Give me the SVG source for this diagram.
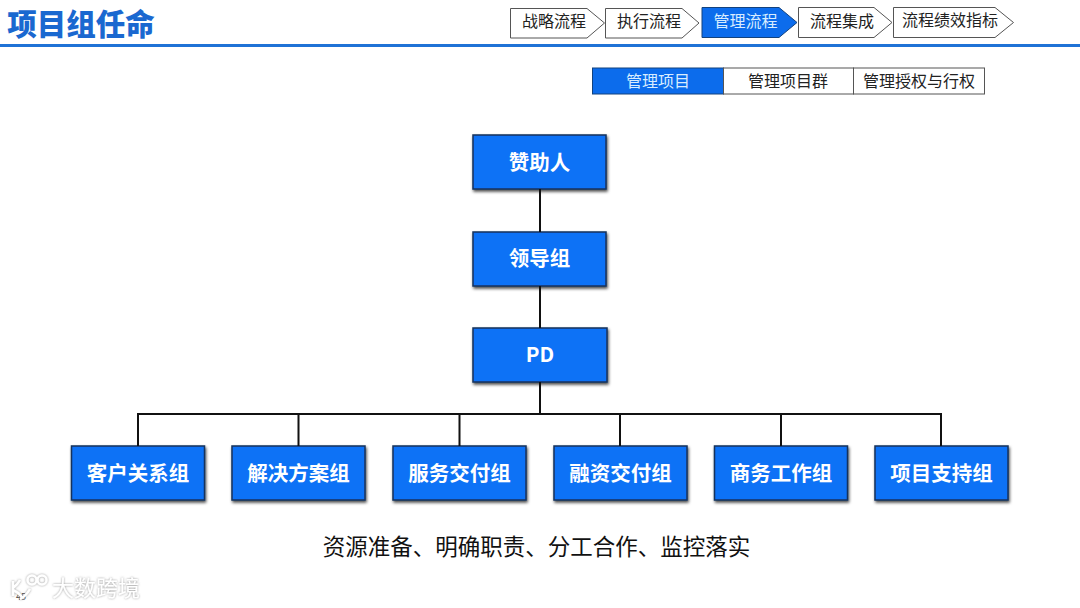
<svg xmlns="http://www.w3.org/2000/svg" width="1080" height="608" viewBox="0 0 1080 608">
<style>
text{font-family:"Noto Sans CJK SC","Liberation Sans",sans-serif;text-anchor:middle}
.box{fill:#0c72f6;stroke:#14315c;stroke-width:1.500;filter:url(#sh)}
.bt{fill:#fff;font-size:20.500px;font-weight:700}
.tab{fill:#fff;stroke:#555;stroke-width:1}
.tabon{fill:#0c6cec;stroke:#12427e;stroke-width:1}
.tt{fill:#222;font-size:16px}
.tw{fill:#d8ecff;font-size:16px}
.conn{fill:none;stroke:#111;stroke-width:2}
</style>
<defs>
<filter id="sh" x="-10%" y="-15%" width="120%" height="135%"><feDropShadow dx="1" dy="2" stdDeviation="1.800" flood-color="#000" flood-opacity=".7"/></filter>
<filter id="wm" x="-10%" y="-20%" width="120%" height="140%"><feDropShadow dx="0" dy="0" stdDeviation="1.200" flood-color="#777" flood-opacity=".8"/></filter>
</defs>
<rect width="1080" height="608" fill="#fff"/>
<g id="header">
<text x="81" y="35" style="font-size:29.500px;font-weight:900" fill="#1a68d0">项目组任命</text>
<rect x="0" y="44" width="1080" height="3" fill="#1f72d6"/>
</g>
<g id="nav-1"><path class="tab" d="M510.500 8.500H587L604.500 23L587 38H510.500Z"/><text class="tt" x="554" y="27">战略流程</text></g>
<g id="nav-2"><path class="tab" d="M605.500 8.500H682L699 23L682 38H605.500Z"/><text class="tt" x="649" y="27">执行流程</text></g>
<g id="nav-3"><path class="tabon" d="M702 7.500H779L797 22.500L779 37.500H702Z"/><text class="tw" x="745.500" y="27">管理流程</text></g>
<g id="nav-4"><path class="tab" d="M798.500 7.500H874L892 22.500L874 37.500H798.500Z"/><text class="tt" x="842" y="27">流程集成</text></g>
<g id="nav-5"><path class="tab" d="M893.500 7.500H995L1013.500 22.500L995 37.500H893.500Z"/><text class="tt" x="950" y="26">流程绩效指标</text></g>
<g id="sub-1"><rect class="tabon" x="592.500" y="68" width="131" height="26"/><text class="tw" x="658" y="87">管理项目</text></g>
<g id="sub-2"><rect class="tab" x="723.500" y="68" width="130" height="26"/><text class="tt" x="788" y="87">管理项目群</text></g>
<g id="sub-3"><rect class="tab" x="853.500" y="68" width="131" height="26"/><text class="tt" x="919" y="87">管理授权与行权</text></g>
<g id="node-sponsor"><rect class="box" x="473" y="135" width="133" height="54"/><text class="bt" x="539.500" y="170">赞助人</text></g>
<g id="node-lead"><rect class="box" x="473" y="232" width="133" height="54"/><text class="bt" x="539.500" y="266">领导组</text></g>
<g id="node-pd"><rect class="box" x="473" y="328" width="134" height="54"/><text class="bt" x="540" y="362">PD</text></g>
<g id="node-a"><rect class="box" x="71.500" y="446" width="133" height="54"/><text class="bt" x="138" y="480.500">客户关系组</text></g>
<g id="node-b"><rect class="box" x="232" y="446" width="133" height="54"/><text class="bt" x="298.500" y="480.500">解决方案组</text></g>
<g id="node-c"><rect class="box" x="393" y="446" width="133" height="54"/><text class="bt" x="459.500" y="480.500">服务交付组</text></g>
<g id="node-d"><rect class="box" x="554" y="446" width="133" height="54"/><text class="bt" x="620.500" y="480.500">融资交付组</text></g>
<g id="node-e"><rect class="box" x="714.500" y="446" width="133" height="54"/><text class="bt" x="781" y="480.500">商务工作组</text></g>
<g id="node-f"><rect class="box" x="875" y="446" width="133" height="54"/><text class="bt" x="941.500" y="480.500">项目支持组</text></g>
<g id="connectors">
<path class="conn" d="M540 189V232M540 286V328M540 382V414M138 446V414H941V446M298.500 414V446M459.500 414V446M620 414V446M781 414V446"/>
</g>
<text x="536.500" y="555" style="font-size:22.500px" fill="#111">资源准备、明确职责、分工合作、监控落实</text>
<g id="watermark">
<text x="21" y="600" style="font-size:9px" fill="#444">45</text>
<g fill="none" stroke="#fff" stroke-width="2.500" filter="url(#wm)"><path d="M13 581V596M13 588Q18 584 20 580M13 590Q18 592 22 597"/><circle cx="32" cy="580" r="4.500"/><circle cx="42" cy="580" r="4.500"/><path d="M30 589Q26 596 20 599"/></g>
<text x="96" y="596" style="font-size:22px" fill="#fff" filter="url(#wm)">大数跨境</text>
</g>
</svg>
